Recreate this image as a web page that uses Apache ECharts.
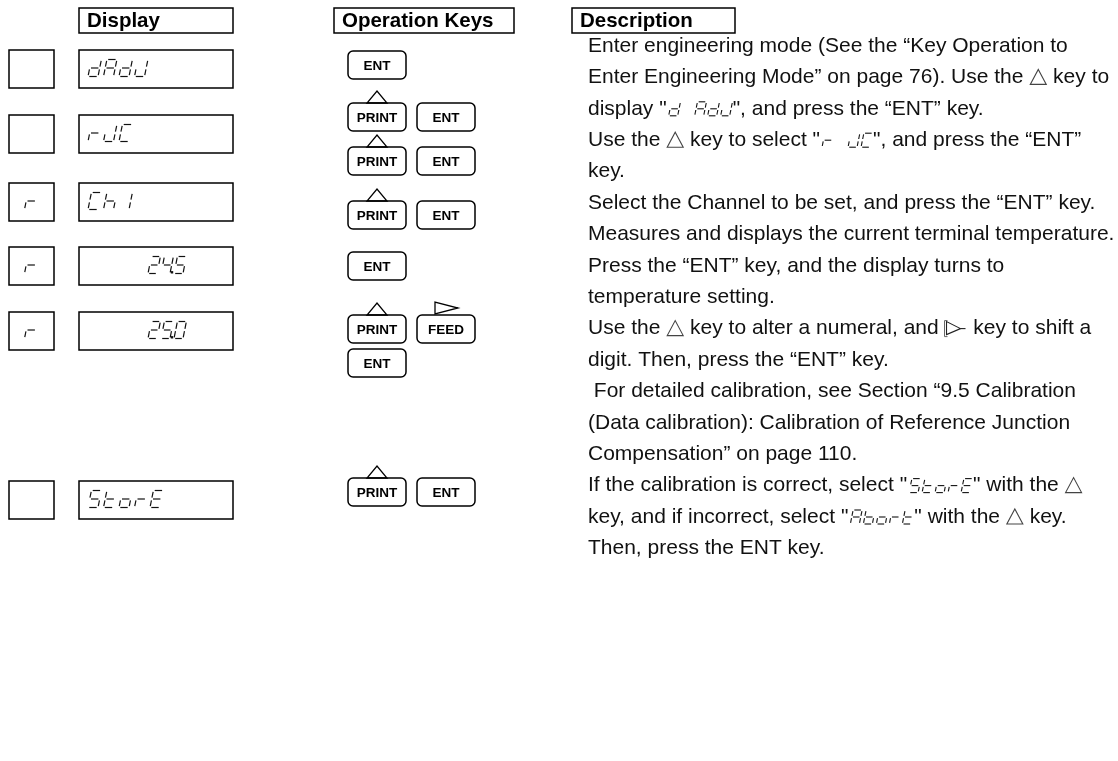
<!DOCTYPE html>
<html><head><meta charset="utf-8">
<script src="https://cdn.jsdelivr.net/npm/echarts@6/dist/echarts.min.js"></script>
<style>html,body{margin:0;padding:0;background:#fff}#c{width:1118px;height:761px}</style>
</head><body><div id="c"></div>
<script>
// ================= DATA =================
const HEADERS = ['Display', 'Operation Keys', 'Description'];
// indicator (left small box) per step
const INDICATORS = ['', '', 'r', 'r', 'r', ''];
// seven-segment display text per step
const DISPLAYS = ['dAdJ', 'rJC', 'Ch1', '24.5', '25.0', 'StorE'];
// operation keys per step: rows of keys
const KEYS = [
  [['ENT'], ['PRINT', 'ENT']],
  [['PRINT', 'ENT']],
  [['PRINT', 'ENT']],
  [['ENT']],
  [['PRINT', 'FEED'], ['ENT']],
  [['PRINT', 'ENT']]
];
// symbol printed above a key
const KEY_SYMBOL = { PRINT: 'up', FEED: 'right' };
// description lines; {s:'...'} = seven-segment glyphs, {up:1} = △ mark, {right:1} = ▷ mark
const DESC_LINES = [
  ['Enter engineering mode (See the \u201cKey Operation to'],
  ['Enter Engineering Mode\u201d on page 76). Use the ', {up: 1}, ' key to'],
  ['display "', {s: 'd AdJ'}, '", and press the \u201cENT\u201d key.'],
  ['Use the ', {up: 1}, ' key to select "', {s: 'r JC'}, '", and press the \u201cENT\u201d'],
  ['key.'],
  ['Select the Channel to be set, and press the \u201cENT\u201d key.'],
  ['Measures and displays the current terminal temperature.'],
  ['Press the \u201cENT\u201d key, and the display turns to'],
  ['temperature setting.'],
  ['Use the ', {up: 1}, ' key to alter a numeral, and ', {right: 1}, ' key to shift a'],
  ['digit. Then, press the \u201cENT\u201d key.'],
  [' For detailed calibration, see Section \u201c9.5 Calibration'],
  ['(Data calibration): Calibration of Reference Junction'],
  ['Compensation\u201d on page 110.'],
  ['If the calibration is correct, select "', {s: 'StorE'}, '" with the ', {up: 1}],
  ['key, and if incorrect, select "', {s: 'Abort'}, '" with the ', {up: 1}, ' key.'],
  ['Then, press the ENT key.']
];

// ================= LAYOUT (presentation only) =================
const L = {
  headerY: 8, headerH: 25,
  headerX: [[79, 233], [334, 514], [572, 735]],
  indX: [9, 54], dispX: [79, 233], boxH: 38,
  stepTop: [50, 115, 183, 247, 312, 481],
  dispStart: [88, 88, 88, 148, 148, 88],
  dispPitch: [15.5, 15.5, 15.5, 13, 13, 15.5],
  keyMid: [[65, 117], [161], [215], [266], [329, 363], [492]],
  keyX: 348, keyW: 58, keyGap: 11, keyH: 28,
  descX: 588, descY0: 46, descGap: 31.4,
  font: 21, color: '#111'
};

// seven-segment maps
const SEG = {
  'd': 'bcdeg', 'A': 'abcefg', 'J': 'bcde', 'r': 'eg', 'C': 'adef', 'h': 'cefg',
  '1': 'bc', '2': 'abdeg', '4': 'bcfg', '5': 'acdfg', '0': 'abcdef', 'S': 'acdfg',
  't': 'defg', 'o': 'cdeg', 'E': 'adefg', 'b': 'cdefg', ' ': ''
};

function segGlyphs(str, x0, yTop, w, h, pitch, lw) {
  const k = 0.2, g = Math.max(1.2, w * 0.13);
  const P = (u, v) => [x0 + u + (h - v) * k, yTop + v];
  const els = [];
  let x = 0;
  for (const ch of str) {
    if (ch === '.') {
      const p = P(x - pitch + w + 2, h);
      els.push({type: 'rect', shape: {x: p[0] - 1.2, y: p[1] - 2.4, width: 2.4, height: 2.4},
        style: {fill: L.color}});
      continue;
    }
    const segs = SEG[ch] || '';
    const h2 = h / 2;
    const def = {
      a: [[g, 0], [w - g, 0]], b: [[w, g], [w, h2 - g]], c: [[w, h2 + g], [w, h - g]],
      d: [[g, h], [w - g, h]], e: [[0, h2 + g], [0, h - g]], f: [[0, g], [0, h2 - g]],
      g: [[g, h2], [w - g, h2]]
    };
    for (const s of segs) {
      const [p1, p2] = def[s];
      const a = P(x + p1[0], p1[1]), b = P(x + p2[0], p2[1]);
      els.push({type: 'line', shape: {x1: a[0], y1: a[1], x2: b[0], y2: b[1]},
        style: {stroke: L.color, lineWidth: lw}});
    }
    x += pitch;
  }
  return {els, width: x};
}

const ctx = document.createElement('canvas').getContext('2d');
function textW(t, font) { ctx.font = font; return ctx.measureText(t).width; }

const chart = echarts.init(document.getElementById('c'), null, {renderer: 'canvas'});

function px(api, x, y) { return api.coord([x, y]); }

const option = {
  animation: false,
  grid: {left: 0, right: 0, top: 0, bottom: 0},
  xAxis: {type: 'value', min: 0, max: 1118, show: false},
  yAxis: {type: 'value', min: 0, max: 761, inverse: true, show: false},
  series: [
    { // headers
      type: 'custom', coordinateSystem: 'cartesian2d',
      data: HEADERS.map((h, i) => [i]),
      renderItem: (params, api) => {
        const i = params.dataIndex;
        const [x1, x2] = L.headerX[i];
        const a = px(api, x1, L.headerY), b = px(api, x2, L.headerY + L.headerH);
        return {type: 'group', children: [
          {type: 'rect', shape: {x: a[0], y: a[1], width: b[0] - a[0], height: b[1] - a[1]},
            style: {fill: '#fff', stroke: '#000', lineWidth: 1.5}},
          {type: 'text', style: {x: a[0] + 8, y: (a[1] + b[1]) / 2 + 1, text: HEADERS[i],
            font: 'bold 20.5px "Liberation Sans", Arial, sans-serif', fill: '#000', verticalAlign: 'middle'}}
        ]};
      }
    },
    { // step rows: indicator box + display box + keys
      type: 'custom', coordinateSystem: 'cartesian2d',
      data: DISPLAYS.map((d, i) => [i]),
      renderItem: (params, api) => {
        const i = params.dataIndex;
        const top = L.stepTop[i];
        const ch = [];
        const ia = px(api, L.indX[0], top), ib = px(api, L.indX[1], top + L.boxH);
        ch.push({type: 'rect', shape: {x: ia[0], y: ia[1], width: ib[0] - ia[0], height: ib[1] - ia[1]},
          style: {fill: '#fff', stroke: '#000', lineWidth: 1.5}});
        const da = px(api, L.dispX[0], top), db = px(api, L.dispX[1], top + L.boxH);
        ch.push({type: 'rect', shape: {x: da[0], y: da[1], width: db[0] - da[0], height: db[1] - da[1]},
          style: {fill: '#fff', stroke: '#000', lineWidth: 1.5}});
        const gh = 17, gw = 10;
        const gy = da[1] + (db[1] - da[1] - gh) / 2 - 1;
        if (INDICATORS[i]) {
          const r = segGlyphs(INDICATORS[i], (ia[0] + ib[0]) / 2 - gw / 2 - 2, gy, gw, gh, 15, 1.2);
          ch.push(...r.els);
        }
        const sx = px(api, L.dispStart[i], top)[0];
        ch.push(...segGlyphs(DISPLAYS[i], sx, gy, L.dispPitch[i] < 14 ? 9 : gw, gh, L.dispPitch[i], 1.2).els);
        // keys
        KEYS[i].forEach((row, r) => {
          const mid = L.keyMid[i][r];
          row.forEach((k, j) => {
            const kx = L.keyX + j * (L.keyW + L.keyGap);
            const ka = px(api, kx, mid - L.keyH / 2), kb = px(api, kx + L.keyW, mid + L.keyH / 2);
            ch.push({type: 'rect', shape: {x: ka[0], y: ka[1], width: kb[0] - ka[0], height: kb[1] - ka[1], r: 5},
              style: {fill: '#fff', stroke: '#000', lineWidth: 1.5}});
            ch.push({type: 'text', style: {x: (ka[0] + kb[0]) / 2, y: (ka[1] + kb[1]) / 2 + 1, text: k,
              font: 'bold 13.5px "Liberation Sans", Arial, sans-serif', fill: '#000', align: 'center', verticalAlign: 'middle'}});
            const cx = (ka[0] + kb[0]) / 2;
            if (KEY_SYMBOL[k] === 'up') {
              ch.push({type: 'polygon', shape: {points: [[cx - 10, ka[1]], [cx + 10, ka[1]], [cx, ka[1] - 12]]},
                style: {fill: 'none', stroke: '#000', lineWidth: 1.3}});
            } else if (KEY_SYMBOL[k] === 'right') {
              ch.push({type: 'polygon', shape: {points: [[cx - 11, ka[1] - 13], [cx - 11, ka[1] - 1], [cx + 12, ka[1] - 7]]},
                style: {fill: 'none', stroke: '#000', lineWidth: 1.3}});
            }
          });
        });
        return {type: 'group', children: ch};
      }
    },
    { // description text lines
      type: 'custom', coordinateSystem: 'cartesian2d',
      data: DESC_LINES.map((d, i) => [i]),
      renderItem: (params, api) => {
        const i = params.dataIndex;
        const font = L.font + 'px "Liberation Sans", Arial, sans-serif';
        const p = px(api, L.descX, L.descY0 + i * L.descGap);
        let x = p[0];
        const y = p[1];
        const ch = [];
        DESC_LINES[i].forEach(part => {
          if (typeof part === 'string') {
            ch.push({type: 'text', style: {x, y, text: part, font, fill: L.color, verticalAlign: 'middle'}});
            x += textW(part, font);
          } else if (part.up) {
            const w = 18;
            ch.push({type: 'polygon', shape: {points: [[x + 1, y + 7], [x + w - 1, y + 7], [x + w / 2, y - 8]]},
              style: {fill: 'none', stroke: '#444', lineWidth: 1.1}});
            x += w;
          } else if (part.right) {
            const w = 22;
            ch.push({type: 'polyline', shape: {points: [[x + 3, y - 8], [x, y - 8], [x, y + 8], [x + 3, y + 8]]},
              style: {fill: 'none', stroke: '#666', lineWidth: 1}});
            ch.push({type: 'polygon', shape: {points: [[x + 2, y - 7], [x + 2, y + 6], [x + 16, y]]},
              style: {fill: 'none', stroke: '#222', lineWidth: 1.1}});
            ch.push({type: 'line', shape: {x1: x + 16, y1: y, x2: x + 21, y2: y},
              style: {stroke: '#222', lineWidth: 1.1}});
            x += w + 1;
          } else if (part.s) {
            const r = segGlyphs(part.s, x + 2, y - 7, 9, 14, 13, 1.1);
            ch.push(...r.els);
            x += r.width + 1;
          }
        });
        return {type: 'group', children: ch};
      }
    }
  ]
};
chart.setOption(option);
</script>
</body></html>
